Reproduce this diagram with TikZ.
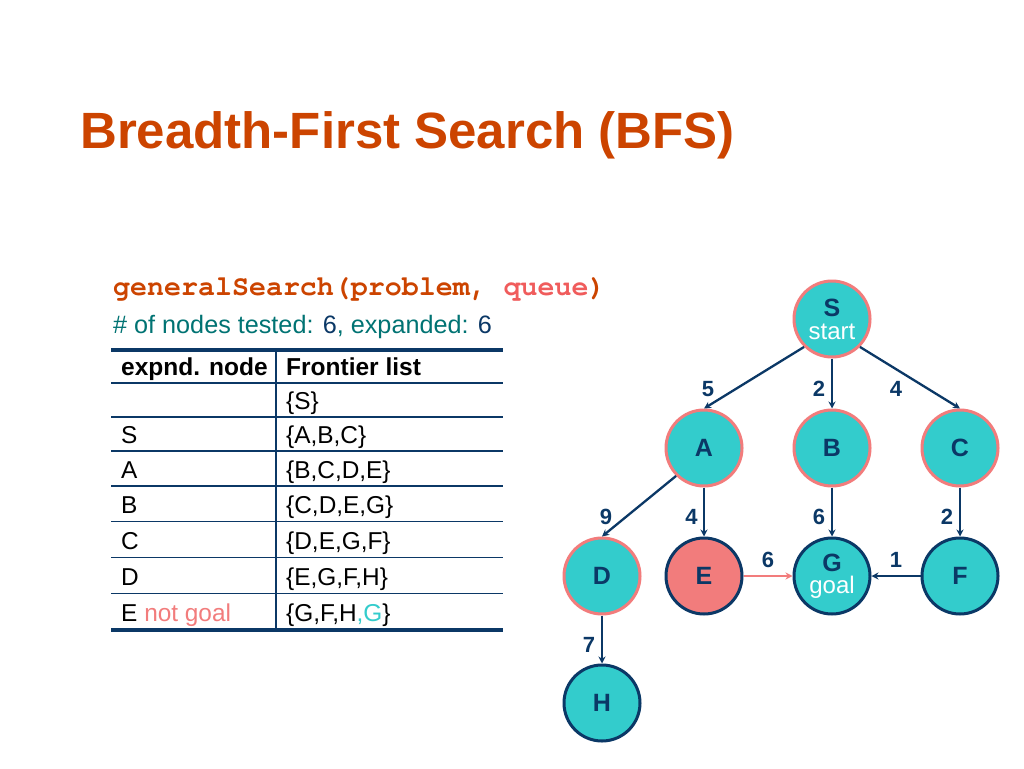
\documentclass[tikz,border=0pt]{standalone}
\usepackage{fontspec}
\setmainfont{Liberation Sans}
\setmonofont{TeX Gyre Cursor}
\usetikzlibrary{arrows.meta}
\definecolor{navy}{HTML}{0B3866}
\definecolor{tealfill}{HTML}{33CCCC}
\definecolor{salmon}{HTML}{F27C7C}
\definecolor{titleorange}{HTML}{CC4400}
\definecolor{queuecol}{HTML}{F05C5C}
\definecolor{tealtxt}{HTML}{007373}
\begin{document}
\begin{tikzpicture}[x=1pt,y=-1pt,
  gnode/.style={circle,minimum size=76pt,inner sep=0pt,fill=tealfill,draw=navy,line width=3pt,
    text=navy,font=\fontsize{25}{24}\selectfont\bfseries,align=center},
  visited/.style={draw=salmon},
  arr/.style={draw=navy,line width=2.3pt,-{Stealth[length=7pt,width=7pt]}},
  elabel/.style={text=navy,font=\fontsize{22}{22}\selectfont\bfseries,inner sep=0pt},
  thinrule/.style={draw=navy,line width=1.2pt},
  thickrule/.style={draw=navy,line width=4pt},
  cell/.style={anchor=base west,inner sep=0pt,font=\fontsize{24.4}{24}\selectfont},
  hcell/.style={cell,font=\fontsize{24.5}{24}\selectfont\bfseries}
]
\useasboundingbox[fill=white] (0,0) rectangle (1024,768);

% title and header texts
\node[anchor=base west,inner sep=0pt,text=titleorange,font=\fontsize{51}{51}\selectfont\bfseries] (title) at (80,148) {Breadth-First Search (BFS)};
\node[anchor=base west,inner sep=0pt,text=titleorange,font=\fontsize{28.3}{28}\selectfont\ttfamily\bfseries] (code) at (113,295) {generalSearch(problem, \textcolor{queuecol}{queue})};
\node[anchor=base west,inner sep=0pt,text=tealtxt,font=\fontsize{25.2}{25}\selectfont] (count) at (113,333) {\# of nodes tested: \textcolor{navy}{6}, expanded: \textcolor{navy}{6}};

% table rules
\draw[thinrule] (111,383) -- (503,383);
\draw[thinrule] (111,417) -- (503,417);
\draw[thinrule] (111,451) -- (503,451);
\draw[thinrule] (111,486) -- (503,486);
\draw[thinrule] (111,521.5) -- (503,521.5);
\draw[thinrule] (111,557.5) -- (503,557.5);
\draw[thinrule] (111,593.5) -- (503,593.5);
\draw[thinrule] (276,350) -- (276,629.5);
\draw[thickrule] (111,350) -- (503,350);
\draw[thickrule] (111,629.5) -- (503,629.5);

% table cells
\node[hcell] (h1) at (121,375) {expnd. node};
\node[hcell] (h2) at (286,375) {Frontier list};
\node[cell] (f0) at (286,409) {\{S\}};
\node[cell] (e1) at (121,443) {S};
\node[cell] (f1) at (286,443) {\{A,B,C\}};
\node[cell] (e2) at (121,478) {A};
\node[cell] (f2) at (286,478) {\{B,C,D,E\}};
\node[cell] (e3) at (121,513.5) {B};
\node[cell] (f3) at (286,513.5) {\{C,D,E,G\}};
\node[cell] (e4) at (121,549.5) {C};
\node[cell] (f4) at (286,549.5) {\{D,E,G,F\}};
\node[cell] (e5) at (121,585.5) {D};
\node[cell] (f5) at (286,585.5) {\{E,G,F,H\}};
\node[cell] (e6) at (121,621.5) {E \textcolor{salmon}{not goal}};
\node[cell] (f6) at (286,621.5) {\{G,F,H\textcolor{tealfill}{,G}\}};

% graph nodes
\node[gnode,visited] (S) at (832,319) {S\\[-1pt]{\fontsize{24}{24}\selectfont\mdseries\color{white}start}};
\node[gnode,visited] (A) at (704,448) {A};
\node[gnode,visited] (B) at (832,448) {B};
\node[gnode,visited] (C) at (960,448) {C};
\node[gnode,visited] (D) at (602,576) {D};
\node[gnode,fill=salmon] (E) at (704,576) {E};
\node[gnode] (G) at (832,576) {G\\[-2pt]{\fontsize{24}{24}\selectfont\mdseries\color{white}goal}};
\node[gnode] (F) at (960,576) {F};
\node[gnode] (H) at (602,703) {H};

% edges
\draw[arr] (S.225) -- (A.north);
\draw[arr] (S.south) -- (B.north);
\draw[arr] (S.-45) -- (C.north);
\draw[arr] (A.225) -- (D.north);
\draw[arr] (A.south) -- (E.north);
\draw[arr] (B.south) -- (G.north);
\draw[arr] (C.south) -- (F.north);
\draw[arr] (D.south) -- (H.north);
\draw[arr,draw=salmon] (E.east) -- (G.west);
\draw[arr] (F.west) -- (G.east);

% edge labels
\node[elabel] (l1) at (708,389) {5};
\node[elabel] (l2) at (819,389) {2};
\node[elabel] (l3) at (896,389) {4};
\node[elabel] (l4) at (606,516.5) {9};
\node[elabel] (l5) at (691.5,516.5) {4};
\node[elabel] (l6) at (819,516.5) {6};
\node[elabel] (l7) at (947,516.5) {2};
\node[elabel] (l8) at (768,559.5) {6};
\node[elabel] (l9) at (896,559.5) {1};
\node[elabel] (l10) at (589,644.5) {7};
\end{tikzpicture}
\end{document}
